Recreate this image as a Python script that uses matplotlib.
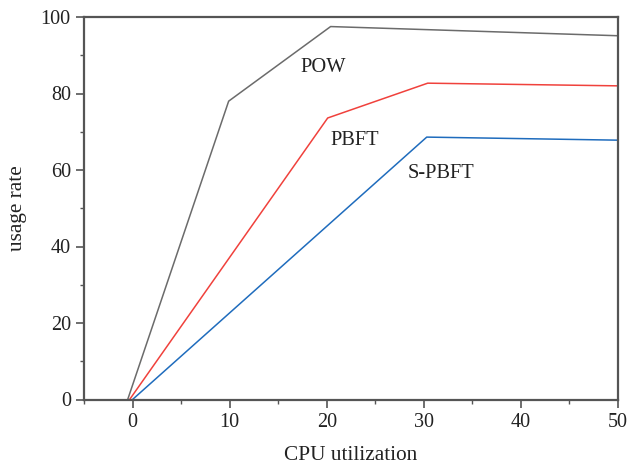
import matplotlib
matplotlib.use("Agg")
import matplotlib.pyplot as plt
from matplotlib.ticker import MultipleLocator

plt.rcParams['font.family'] = ['Liberation Serif', 'DejaVu Serif']

pow_x = [-0.5, 9.9, 20.4, 50]
pow_y = [0, 78.0, 97.5, 95.1]
pbft_x = [-0.3, 20.1, 30.4, 50]
pbft_y = [0, 73.6, 82.7, 82.0]
spbft_x = [0, 30.3, 50]
spbft_y = [0, 68.6, 67.8]

labels = ["POW", "PBFT", "S-PBFT"]
label_pos = [(19.6, 86.9), (22.9, 67.8), (31.8, 59.2)]

fig = plt.figure(figsize=(6.29, 4.66), dpi=100)
ax = fig.add_axes([84/629, 1-399.5/466, (618-84)/629, (399.5-17)/466])

ax.plot(pow_x, pow_y, color='#6b6b6b', lw=1.1)
ax.plot(pbft_x, pbft_y, color='#f0413c', lw=1.1)
ax.plot(spbft_x, spbft_y, color='#1f6cbd', lw=1.1)

for t, (x, y) in zip(labels, label_pos):
    ax.text(x, y, t, ha='center', va='center', fontsize=14.7, color='#222222')

ax.set_xlim(-5, 50)
ax.set_ylim(0, 100)
ax.xaxis.set_major_locator(MultipleLocator(10))
ax.xaxis.set_minor_locator(MultipleLocator(5))
ax.yaxis.set_major_locator(MultipleLocator(20))
ax.yaxis.set_minor_locator(MultipleLocator(10))

for s in ax.spines.values():
    s.set_color('#555555')
    s.set_linewidth(1.6)

ax.tick_params(axis='both', which='major', direction='out', length=5.5, width=1.2,
               color='#555555', labelsize=14.5, labelcolor='#222222', pad=4)
ax.tick_params(axis='both', which='minor', direction='out', length=3, width=1.0,
               color='#555555')

ax.set_xlabel('CPU utilization', fontsize=15.3, color='#222222', labelpad=10)
ax.set_ylabel('usage rate', fontsize=15.3, color='#222222', labelpad=10)

fig.savefig('out.png', dpi=100)
